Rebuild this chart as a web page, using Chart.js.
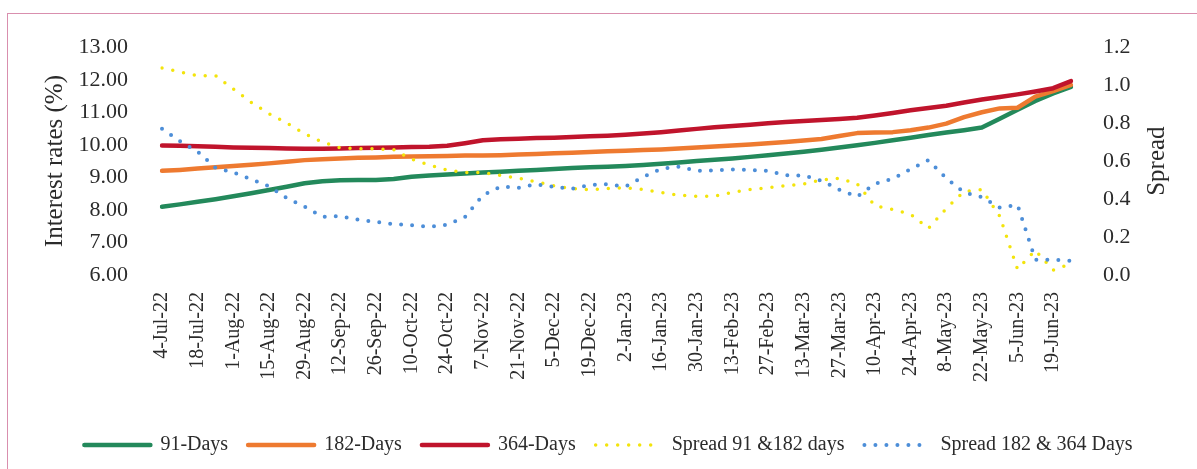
<!DOCTYPE html>
<html>
<head>
<meta charset="utf-8">
<title>Interest rates and spreads</title>
<script src="https://cdn.jsdelivr.net/npm/chart.js@4.4.1/dist/chart.umd.min.js"></script>
<style>
  html, body { margin: 0; padding: 0; background: #fff; }
  #wrap  { position: relative; width: 1197px; height: 469px; overflow: hidden; }
  #frame { position: absolute; left: 7px; top: 13px; width: 1300px; height: 600px;
           border-top: 1.5px solid #d98fae; border-left: 1.5px solid #d98fae; pointer-events: none; }
  canvas { position: absolute; left: 0; top: 0; }
</style>
</head>
<body>
<div id="wrap">
  <canvas id="rateChart" width="1197" height="469"></canvas>
  <div id="frame"></div>
</div>
<script>
/* ── weekly auction dates (label shown every 2nd week) ── */
const weeks = [
  '4-Jul-22', '11-Jul-22', '18-Jul-22', '25-Jul-22', '1-Aug-22', '8-Aug-22', '15-Aug-22', '22-Aug-22',
  '29-Aug-22', '5-Sep-22', '12-Sep-22', '19-Sep-22', '26-Sep-22', '3-Oct-22', '10-Oct-22', '17-Oct-22',
  '24-Oct-22', '31-Oct-22', '7-Nov-22', '14-Nov-22', '21-Nov-22', '28-Nov-22', '5-Dec-22', '12-Dec-22',
  '19-Dec-22', '26-Dec-22', '2-Jan-23', '9-Jan-23', '16-Jan-23', '23-Jan-23', '30-Jan-23', '6-Feb-23',
  '13-Feb-23', '20-Feb-23', '27-Feb-23', '6-Mar-23', '13-Mar-23', '20-Mar-23', '27-Mar-23', '3-Apr-23',
  '10-Apr-23', '17-Apr-23', '24-Apr-23', '1-May-23', '8-May-23', '15-May-23', '22-May-23', '29-May-23',
  '5-Jun-23', '12-Jun-23', '19-Jun-23', '26-Jun-23'
];

/* ── T-bill yields (%) ── */
const days91 = [
  8.10, 8.17, 8.25, 8.33, 8.42, 8.51, 8.61, 8.71, 8.82, 8.88, 8.91, 8.92, 8.92, 8.95, 9.02, 9.06,
  9.09, 9.12, 9.15, 9.17, 9.20, 9.23, 9.26, 9.29, 9.31, 9.33, 9.35, 9.38, 9.42, 9.46, 9.50, 9.54,
  9.58, 9.63, 9.68, 9.73, 9.79, 9.85, 9.92, 9.99, 10.06, 10.14, 10.22, 10.30, 10.38, 10.45, 10.53, 10.80,
  11.08, 11.35, 11.58, 11.78
];
const days182 = [
  9.20, 9.23, 9.27, 9.31, 9.35, 9.39, 9.43, 9.48, 9.53, 9.56, 9.58, 9.60, 9.61, 9.63, 9.64, 9.65,
  9.66, 9.67, 9.67, 9.68, 9.70, 9.72, 9.74, 9.76, 9.78, 9.80, 9.82, 9.84, 9.86, 9.89, 9.92, 9.95,
  9.98, 10.01, 10.05, 10.09, 10.13, 10.18, 10.27, 10.36, 10.38, 10.39, 10.45, 10.53, 10.65, 10.85, 11.00, 11.12,
  11.14, 11.48, 11.65, 11.84
];
const days364 = [
  9.98, 9.97, 9.96, 9.94, 9.92, 9.91, 9.90, 9.89, 9.88, 9.88, 9.89, 9.90, 9.91, 9.92, 9.93, 9.94,
  9.97, 10.05, 10.14, 10.17, 10.19, 10.21, 10.22, 10.24, 10.26, 10.28, 10.31, 10.35, 10.39, 10.44, 10.49, 10.54,
  10.58, 10.62, 10.66, 10.70, 10.73, 10.76, 10.79, 10.83, 10.90, 10.98, 11.06, 11.13, 11.20, 11.30, 11.39, 11.47,
  11.55, 11.64, 11.74, 11.96
];

/* ── spreads (right axis) ── */
const spread91_182 = [
  1.09, 1.07, 1.05, 1.05, 0.98, 0.91, 0.85, 0.80, 0.745, 0.70, 0.67, 0.665, 0.665, 0.66, 0.61, 0.58,
  0.553, 0.54, 0.54, 0.525, 0.51, 0.49, 0.47, 0.455, 0.45, 0.455, 0.46, 0.45, 0.435, 0.42, 0.415, 0.415,
  0.435, 0.45, 0.46, 0.47, 0.48, 0.50, 0.51, 0.48, 0.365, 0.345, 0.32, 0.245, 0.35, 0.44, 0.45, 0.31,
  0.03, 0.13, 0.025, 0.06
];
const spread182_364 = [
  0.77, 0.705, 0.65, 0.565, 0.54, 0.505, 0.467, 0.405, 0.36, 0.307, 0.31, 0.292, 0.28, 0.268, 0.262, 0.254,
  0.265, 0.305, 0.42, 0.466, 0.459, 0.478, 0.464, 0.454, 0.474, 0.478, 0.466, 0.517, 0.559, 0.571, 0.549, 0.551,
  0.556, 0.554, 0.548, 0.525, 0.524, 0.497, 0.449, 0.412, 0.48, 0.507, 0.558, 0.605, 0.51, 0.435, 0.41, 0.355,
  0.37, 0.08, 0.08, 0.075
];

const FONT   = "'Liberation Serif', 'Times New Roman', serif";
const TEXT   = '#2b2b2b';
const Y_TITLE      = 'Interest rates (%)';
const SPREAD_TITLE = 'Spread';

/* ── right axis title reads bottom-to-top, so draw it ourselves ── */
const spreadTitle = {
  id: 'spreadTitle',
  afterDraw(chart) {
    const { ctx, chartArea } = chart;
    const x = chart.scales.y1.right - 40;
    ctx.save();
    ctx.translate(x, (chartArea.top + chartArea.bottom) / 2);
    ctx.rotate(-Math.PI / 2);
    ctx.font = `25px ${FONT}`;
    ctx.fillStyle = TEXT;
    ctx.textAlign = 'center';
    ctx.textBaseline = 'middle';
    ctx.fillText(SPREAD_TITLE, 0, 0);
    ctx.restore();
  }
};

function solid(label, data, color, order) {
  return {
    label, data, order,
    yAxisID: 'y',
    borderColor: color, backgroundColor: color,
    borderWidth: 4.5, borderCapStyle: 'round', borderJoinStyle: 'round',
    pointRadius: 0, pointStyle: 'line', tension: 0,
  };
}

function dotted(label, data, color, width, order) {
  return {
    label, data, order,
    yAxisID: 'y1',
    borderColor: color, backgroundColor: color,
    borderWidth: width, borderDash: [0, 11], borderCapStyle: 'round',
    pointRadius: 0, pointStyle: 'line', tension: 0,
  };
}

/* legend samples: keep the dataset's own dash / cap / width */
function legendLabels(chart) {
  const items = Chart.defaults.plugins.legend.labels.generateLabels(chart);
  items.forEach(it => {
    const ds = chart.data.datasets[it.datasetIndex];
    it.pointStyle  = 'line';
    it.strokeStyle = ds.borderColor;
    it.lineWidth   = ds.borderWidth;
    it.lineDash    = ds.borderDash || [];
    it.lineCap     = ds.borderCapStyle;
  });
  return items;
}

new Chart(document.getElementById('rateChart'), {
  type: 'line',
  data: {
    labels: weeks,
    datasets: [
      solid('91-Days',  days91,  '#23895b', 5),
      solid('182-Days', days182, '#ee7a30', 4),
      solid('364-Days', days364, '#c0142c', 3),
      dotted('Spread 91 &182 days',   spread91_182,  '#f3e40c', 3.5, 2),
      dotted('Spread 182 & 364 Days', spread182_364, '#4d8ed8', 4,   1),
    ],
  },
  options: {
    responsive: false,
    animation: false,
    devicePixelRatio: 1,
    layout: { padding: { left: 20, right: 0, top: 41, bottom: 4 } },
    plugins: {
      tooltip: { enabled: false },
      legend: {
        position: 'bottom',
        labels: {
          usePointStyle: true,
          pointStyleWidth: 66,
          padding: 20,
          color: TEXT,
          font: { family: FONT, size: 20 },
          generateLabels: legendLabels,
          sort: (a, b) => a.datasetIndex - b.datasetIndex,
        },
      },
    },
    scales: {
      x: {
        offset: false,
        grid: { display: false, drawTicks: false },
        border: { display: false },
        ticks: {
          autoSkip: false, maxRotation: 90, minRotation: 90, padding: 17,
          color: TEXT, font: { family: FONT, size: 20 },
          callback(v, i) { return i % 2 === 0 ? this.getLabelForValue(v) : ''; },
        },
        afterFit(s) { s.height = 140; },
      },
      y: {
        position: 'left', min: 6, max: 13,
        grid: { display: false, drawTicks: false },
        border: { display: false },
        ticks: {
          stepSize: 1, padding: 34, color: TEXT, font: { family: FONT, size: 22 },
          callback: v => v.toFixed(2),
        },
        title: {
          display: true, text: Y_TITLE, color: TEXT,
          font: { family: FONT, size: 25 }, padding: { top: 20, bottom: 0 },
        },
        afterFit(s) { s.width = 142; },
      },
      y1: {
        position: 'right', min: 0, max: 1.2,
        grid: { display: false, drawTicks: false },
        border: { display: false },
        ticks: {
          stepSize: 0.2, padding: 32, color: TEXT, font: { family: FONT, size: 22 },
          callback: v => v.toFixed(1),
        },
        afterFit(s) { s.width = 126; },
      },
    },
  },
  plugins: [spreadTitle],
});
</script>
</body>
</html>
